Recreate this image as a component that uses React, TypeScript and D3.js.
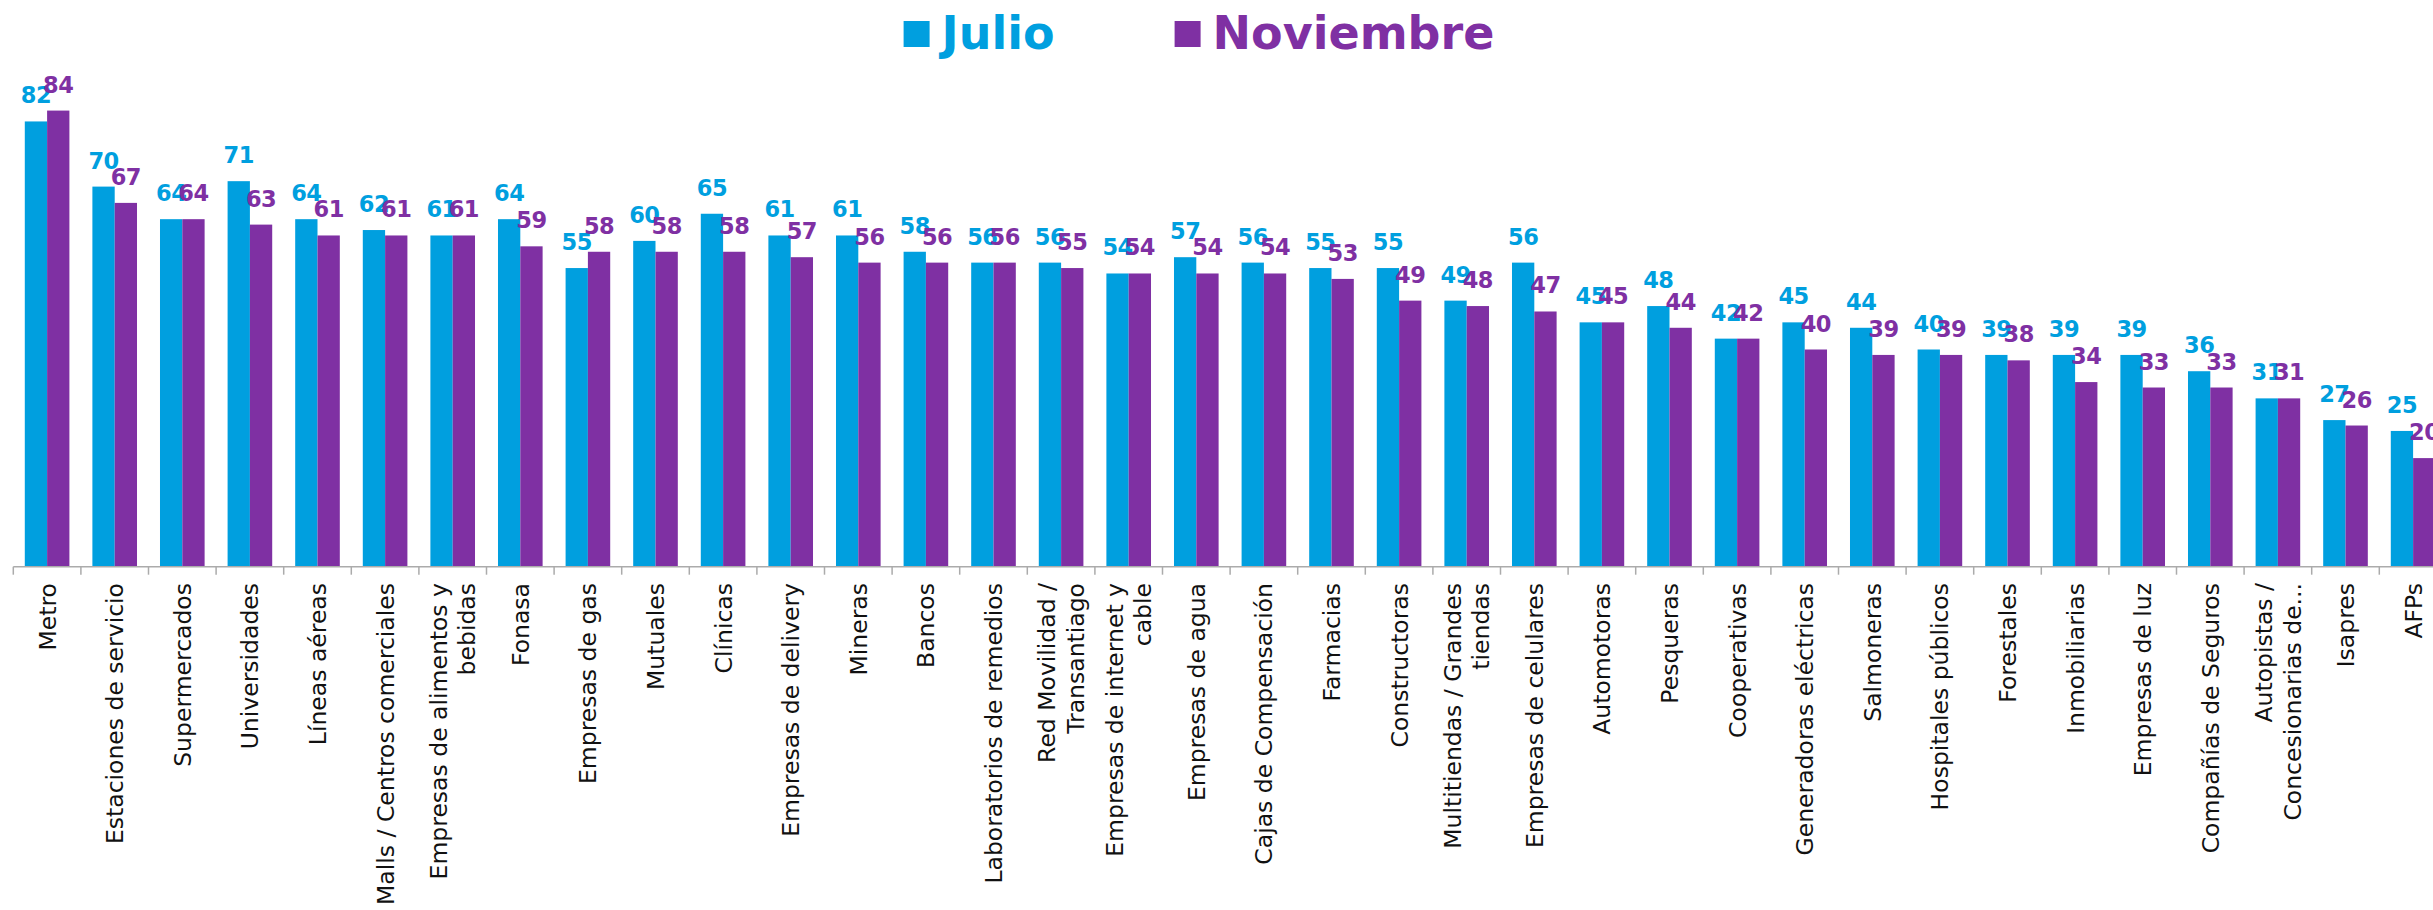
import React, { useEffect, useRef } from "react";
import * as d3 from "d3";

const categories = [
  "Metro",
  "Estaciones de servicio",
  "Supermercados",
  "Universidades",
  "Líneas aéreas",
  "Malls / Centros comerciales",
  "Empresas de alimentos y\nbebidas",
  "Fonasa",
  "Empresas de gas",
  "Mutuales",
  "Clínicas",
  "Empresas de delivery",
  "Mineras",
  "Bancos",
  "Laboratorios de remedios",
  "Red Movilidad /\nTransantiago",
  "Empresas de internet y\ncable",
  "Empresas de agua",
  "Cajas de Compensación",
  "Farmacias",
  "Constructoras",
  "Multitiendas / Grandes\ntiendas",
  "Empresas de celulares",
  "Automotoras",
  "Pesqueras",
  "Cooperativas",
  "Generadoras eléctricas",
  "Salmoneras",
  "Hospitales públicos",
  "Forestales",
  "Inmobiliarias",
  "Empresas de luz",
  "Compañías de Seguros",
  "Autopistas /\nConcesionarias de...",
  "Isapres",
  "AFPs",
];

const julio = [
  82, 70, 64, 71, 64, 62, 61, 64, 55, 60, 65, 61, 61, 58, 56, 56, 54, 57, 56,
  55, 55, 49, 56, 45, 48, 42, 45, 44, 40, 39, 39, 39, 36, 31, 27, 25,
];

const noviembre = [
  84, 67, 64, 63, 61, 61, 61, 59, 58, 58, 58, 57, 56, 56, 56, 55, 54, 54, 54,
  53, 49, 48, 47, 45, 44, 42, 40, 39, 39, 38, 34, 33, 33, 31, 26, 20,
];

const seriesNames = ["Julio", "Noviembre"];
const seriesValues = [julio, noviembre];
const colors = ["#009FDF", "#7F30A3"];

const App: React.FC = () => {
  const svgRef = useRef<SVGSVGElement | null>(null);

  const width = 2433;
  const height = 910;
  const axisY = 566.7;
  const left = 13.3;
  const step = 67.6;

  useEffect(() => {
    const svg = d3.select(svgRef.current);
    svg.selectAll("*").remove();

    const x = d3
      .scaleBand<string>()
      .domain(categories)
      .range([left, left + step * categories.length]);

    const pairW = x.bandwidth() * 0.66;
    const x1 = d3
      .scaleBand<string>()
      .domain(seriesNames)
      .range([(x.bandwidth() - pairW) / 2, (x.bandwidth() + pairW) / 2]);

    const y = d3.scaleLinear().domain([0, 100]).range([axisY, axisY - 543]);

    // bars
    seriesNames.forEach((name, si) => {
      svg
        .append("g")
        .selectAll("rect")
        .data(seriesValues[si])
        .join("rect")
        .attr("x", (_, i) => (x(categories[i]) as number) + (x1(name) as number))
        .attr("y", (d) => y(d))
        .attr("width", x1.bandwidth())
        .attr("height", (d) => axisY - y(d))
        .attr("fill", colors[si]);
    });

    // value labels (purple drawn last, on top)
    seriesNames.forEach((name, si) => {
      svg
        .append("g")
        .selectAll("text")
        .data(seriesValues[si])
        .join("text")
        .attr(
          "x",
          (_, i) =>
            (x(categories[i]) as number) +
            (x1(name) as number) +
            x1.bandwidth() / 2
        )
        .attr("y", (d) => y(d) - 18)
        .attr("text-anchor", "middle")
        .style("font-family", "'DejaVu Sans', sans-serif")
        .style("font-size", "22.5px")
        .style("font-weight", "bold")
        .style("letter-spacing", "-0.5px")
        .attr("fill", colors[si])
        .text((d) => d);
    });

    // x axis
    const axis = svg.append("g");
    axis
      .append("line")
      .attr("x1", left)
      .attr("x2", left + step * categories.length)
      .attr("y1", axisY)
      .attr("y2", axisY)
      .attr("stroke", "#ABABAB")
      .attr("stroke-width", 1.5);

    axis
      .selectAll(".tick")
      .data(categories)
      .join("line")
      .attr("class", "tick")
      .attr("x1", (d) => x(d) as number)
      .attr("x2", (d) => x(d) as number)
      .attr("y1", axisY)
      .attr("y2", axisY + 8)
      .attr("stroke", "#ABABAB")
      .attr("stroke-width", 1.5);

    const labels = axis
      .selectAll(".cat")
      .data(categories)
      .join("text")
      .attr("class", "cat")
      .attr(
        "transform",
        (d) => `translate(${(x(d) as number) + x.bandwidth() / 2}, 583) rotate(-90)`
      )
      .attr("text-anchor", "end")
      .style("font-family", "'DejaVu Sans', sans-serif")
      .style("font-size", "23.5px")
      .attr("fill", "#111");

    labels.each(function (d) {
      const lines = d.split("\n");
      const t = d3.select(this);
      lines.forEach((ln, i) => {
        t.append("tspan")
          .attr("x", 0)
          .attr("y", (i - (lines.length - 1) / 2) * 28.5)
          .attr("dy", "0.36em")
          .text(ln);
      });
    });

    // Legend
    const legendPos = [903.6, 1174.6];
    const legend = svg.append("g");
    seriesNames.forEach((name, si) => {
      legend
        .append("rect")
        .attr("x", legendPos[si])
        .attr("y", 21)
        .attr("width", 26)
        .attr("height", 26)
        .attr("fill", colors[si]);
      legend
        .append("text")
        .attr("x", legendPos[si] + 38)
        .attr("y", 49)
        .style("font-family", "'DejaVu Sans', sans-serif")
        .style("font-size", "46px")
        .style("font-weight", "bold")
        .attr("fill", colors[si])
        .text(name);
    });
  }, []);

  return (
    <svg
      ref={svgRef}
      width={width}
      height={height}
      style={{ position: "absolute", left: 0, top: 0, background: "#fff" }}
    />
  );
};

export default App;
